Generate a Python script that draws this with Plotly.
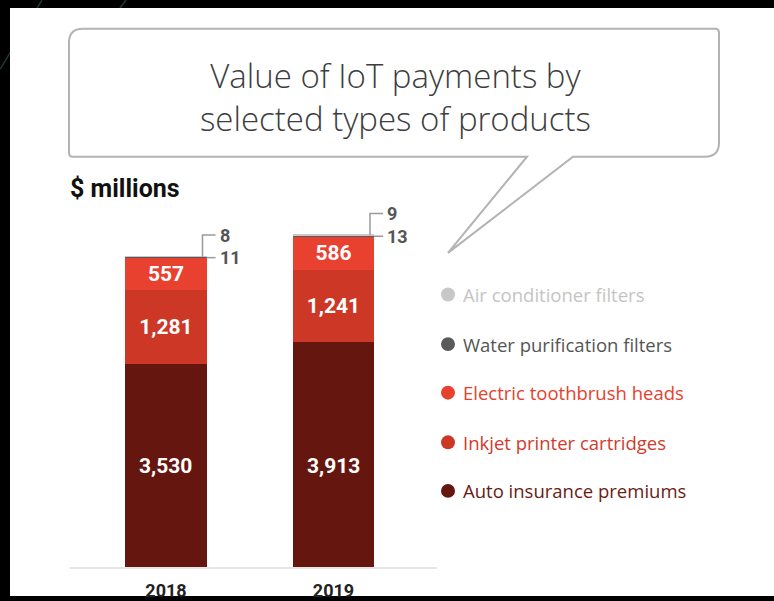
import plotly.graph_objects as go

# ---------------- data ----------------
years = ["2018", "2019"]
series_names = [
    "Auto insurance premiums",
    "Inkjet printer cartridges",
    "Electric toothbrush heads",
    "Water purification filters",
    "Air conditioner filters",
]
auto_insurance = [3530, 3913]
inkjet_cartridges = [1281, 1241]
toothbrush_heads = [557, 586]
water_filters = [11, 13]
aircon_filters = [8, 9]

bar_colors = ["#65160f", "#cd3726", "#e9412f", "#5a5a5a", "#c8c8c8"]
legend_text_colors = ["#6b1b12", "#d13b29", "#e8402e", "#555555", "#c4c4c4"]

title_text = "Value of IoT payments by<br>selected types of products"
unit_text = "$ millions"

# ---------------- helpers (pixel -> paper) ----------------
W, H = 774, 601
def X(px):
    return px / W
def Y(py):
    return 1 - py / H

series = [auto_insurance, inkjet_cartridges, toothbrush_heads, water_filters, aircon_filters]
xs = list(range(len(years)))
BAR_W = 0.484
LABEL_FONT = dict(family="Roboto", size=21, color="white", weight="bold")

fig = go.Figure()
for k, (name, vals, col) in enumerate(zip(series_names, series, bar_colors)):
    mid = k in (1, 2)
    fig.add_trace(go.Bar(
        x=xs, y=vals, name=name, width=BAR_W,
        marker=dict(color=col, line=dict(width=0)),
        texttemplate="%{y:,}" if mid else None,
        textposition="inside" if mid else "none",
        insidetextanchor="middle",
        textangle=0,
        textfont=LABEL_FONT,
        showlegend=False,
        hoverinfo="skip",
    ))

shapes = []
annotations = []

# decorative diagonal lines in the black frame (below the white panel)
for (a, b) in [((0, 70), (42, 0)), ((120, 8), (126, 0))]:
    shapes.append(dict(type="line", xref="paper", yref="paper",
                       x0=X(a[0]), y0=Y(a[1]), x1=X(b[0]), y1=Y(b[1]),
                       line=dict(color="#1f3a2c", width=1.5), layer="below"))
# white panel
shapes.append(dict(type="rect", xref="paper", yref="paper",
                   x0=X(10), y0=Y(601), x1=X(774), y1=Y(8),
                   fillcolor="white", line=dict(width=0), layer="below"))

# speech bubble
x0, y0, x1, y1 = 69, 29, 719, 158
r, s = 14, 4
pL, pR, tip = 527, 573, (448, 255)
pts = [
    ("M", [(x0, y0 + r)]), ("Q", [(x0, y0), (x0 + r, y0)]),
    ("L", [(x1 - s, y0)]), ("Q", [(x1, y0), (x1, y0 + s)]),
    ("L", [(x1, y1 - r)]), ("Q", [(x1, y1), (x1 - r, y1)]),
    ("L", [(pR, y1)]), ("L", [tip]), ("L", [(pL, y1)]),
    ("L", [(x0 + s, y1)]), ("Q", [(x0, y1), (x0, y1 - s)]),
]
path = ""
for cmd, ps in pts:
    path += cmd + " " + " ".join(f"{X(px):.5f},{Y(py):.5f}" for px, py in ps) + " "
path += "Z"
shapes.append(dict(type="path", xref="paper", yref="paper", path=path,
                   line=dict(color="#b3b3b3", width=2), fillcolor="rgba(0,0,0,0)"))

annotations.append(dict(xref="paper", yref="paper", x=X(395), y=Y(98),
                        text=title_text, showarrow=False, xanchor="center", yanchor="middle",
                        font=dict(family="Open Sans", size=33, color="#3d3d3d", weight=300)))
annotations.append(dict(xref="paper", yref="paper", x=X(68), y=Y(190),
                        text=unit_text, showarrow=False, xanchor="left", yanchor="middle",
                        font=dict(family="Roboto", size=25, color="#111111", weight="bold")))

# auto-insurance labels: both drawn at the same height (middle of the shorter segment)
auto_label_y = min(auto_insurance) / 2
for i in xs:
    annotations.append(dict(xref="x", yref="y", x=i, y=auto_label_y,
                            text=f"{auto_insurance[i]:,}", showarrow=False,
                            xanchor="center", yanchor="middle", font=LABEL_FONT))

# leader lines + small labels
PX_PER_UNIT = 0.0581
OFF = 22 / PX_PER_UNIT
LINE_LEN = 0.054
for i in xs:
    base = auto_insurance[i] + inkjet_cartridges[i] + toothbrush_heads[i]
    wmid = base + water_filters[i] / 2
    total = base + water_filters[i] + aircon_filters[i]
    right = i + BAR_W / 2
    shapes.append(dict(type="line", xref="x", yref="y",
                       x0=right, x1=right + LINE_LEN, y0=wmid, y1=wmid,
                       line=dict(color="#9a9a9a", width=1.5)))
    ex = right - 0.024
    shapes.append(dict(type="path", xref="x", yref="y",
                       path=f"M {ex},{total} L {ex},{total + OFF} L {right + LINE_LEN},{total + OFF}",
                       line=dict(color="#9a9a9a", width=1.5)))
    for val, yy in [(water_filters[i], wmid), (aircon_filters[i], total + OFF)]:
        annotations.append(dict(xref="x", yref="y", x=right + LINE_LEN + 0.012, y=yy,
                                text=str(val), showarrow=False, xanchor="left", yanchor="middle",
                                font=dict(family="Roboto", size=18, color="#555555", weight="bold")))

# legend (top item = top of stack)
legend_y = [297, 347, 396, 446, 495]
order = list(range(len(series_names)))[::-1]
for row, k in enumerate(order):
    cy = legend_y[row]
    shapes.append(dict(type="circle", xref="paper", yref="paper",
                       x0=X(448 - 7), x1=X(448 + 7), y0=Y(cy + 7), y1=Y(cy - 7),
                       fillcolor=bar_colors[k], line=dict(width=0)))
    annotations.append(dict(xref="paper", yref="paper", x=X(461), y=Y(cy),
                            text=series_names[k], showarrow=False, xanchor="left", yanchor="middle",
                            font=dict(family="Open Sans", size=18.5, color=legend_text_colors[k],
                                      weight=500)))

fig.update_layout(
    width=W, height=H, margin=dict(l=0, r=0, t=0, b=0),
    paper_bgcolor="black", plot_bgcolor="rgba(0,0,0,0)",
    barmode="stack", showlegend=False,
    shapes=shapes, annotations=annotations,
    xaxis=dict(domain=[X(70), X(437)], range=[-0.573, 1.618],
               tickmode="array", tickvals=xs, ticktext=years,
               showgrid=False, zeroline=False, showline=True,
               linecolor="#e6e6e6", linewidth=2, ticks="", ticklabelstandoff=6,
               tickfont=dict(family="Roboto", size=18, color="#222222", weight="bold"),
               fixedrange=True),
    yaxis=dict(domain=[1 - 572 / H, 1 - 200 / H], range=[0, 372 / PX_PER_UNIT],
               visible=False, fixedrange=True),
)

fig.write_html("out.html")
